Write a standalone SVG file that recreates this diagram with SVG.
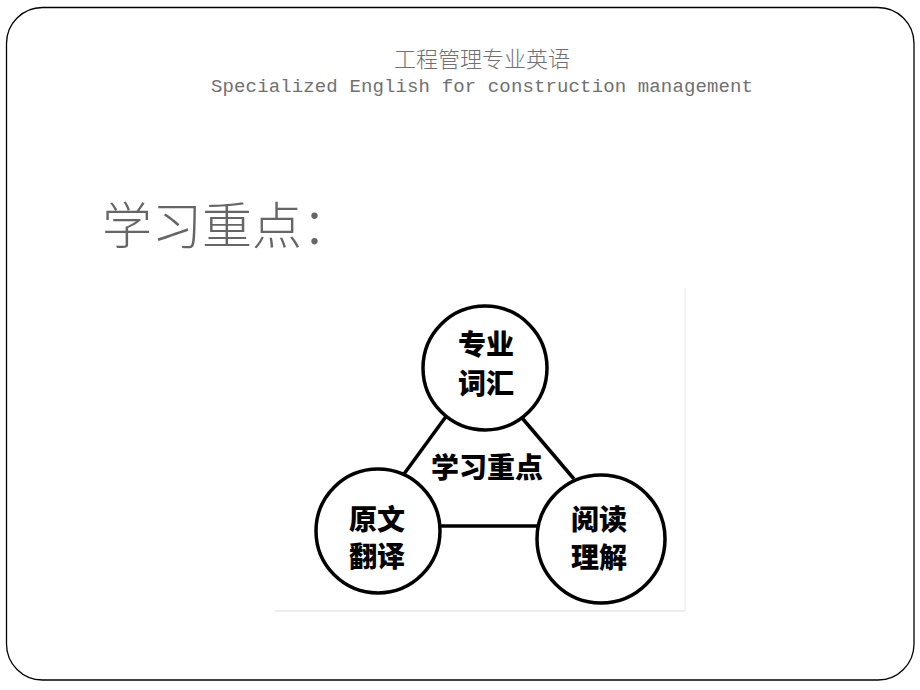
<svg xmlns="http://www.w3.org/2000/svg" width="920" height="690" viewBox="0 0 920 690">
<style>
.cjk{font-family:"Noto Sans CJK SC","Noto Sans",sans-serif;}
.node circle{fill:#fff;stroke:#000;stroke-width:3.5;}
.node text{font-family:"Noto Sans CJK SC",sans-serif;font-weight:900;font-size:28px;fill:#000;text-anchor:middle;}
.conn line{stroke:#000;stroke-width:3.5;}
</style>
<rect x="0" y="0" width="920" height="690" fill="#fff"/>
<rect x="6.5" y="7.5" width="907.5" height="672.5" rx="36" ry="36" fill="none" stroke="#000" stroke-width="1.3"/>
<text class="cjk" x="482" y="67" font-size="22" fill="#707070" text-anchor="middle" font-weight="300">工程管理专业英语</text>
<text x="482" y="92" font-family="Liberation Mono, monospace" font-size="19" fill="#707070" text-anchor="middle" textLength="542">Specialized English for construction management</text>
<text class="cjk" x="102" y="244" font-size="50" fill="#666" font-weight="300">学习重点：</text>
<g id="image-frame">
<line x1="275" y1="611" x2="685" y2="611" stroke="#e6e6e6" stroke-width="1.5"/>
<line x1="685" y1="288" x2="685" y2="611" stroke="#f0f0f0" stroke-width="1.5"/>
</g>
<g id="connectors" class="conn">
<line x1="450" y1="411" x2="404" y2="474"/>
<line x1="517" y1="412" x2="574" y2="479"/>
<line x1="439" y1="526" x2="537" y2="526"/>
</g>
<g id="center-label">
<text x="487" y="478" font-family="Noto Sans CJK SC, sans-serif" font-weight="900" font-size="28" text-anchor="middle" fill="#000">学习重点</text>
</g>
<g id="node-vocab" class="node">
<circle cx="485" cy="368" r="62"/>
<text x="486" y="355">专业</text>
<text x="486" y="394">词汇</text>
</g>
<g id="node-translate" class="node">
<circle cx="378" cy="531" r="62"/>
<text x="377" y="530">原文</text>
<text x="377" y="567">翻译</text>
</g>
<g id="node-reading" class="node">
<circle cx="601" cy="539" r="64"/>
<text x="599" y="530">阅读</text>
<text x="599" y="568">理解</text>
</g>
</svg>
